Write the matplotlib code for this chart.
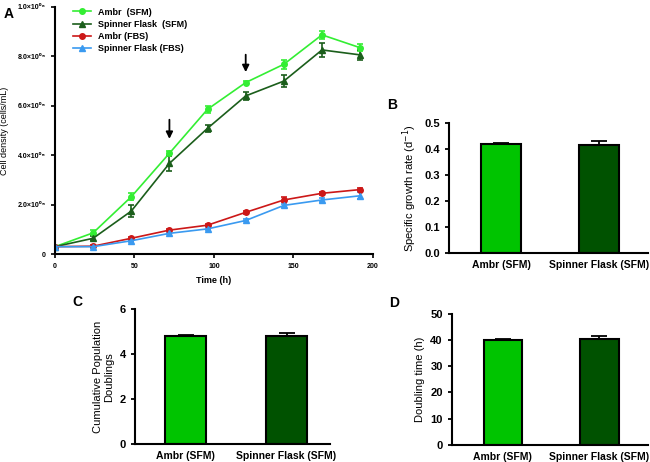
import numpy as np
import matplotlib
matplotlib.use("Agg")
import matplotlib.pyplot as plt
from matplotlib.lines import Line2D

plt.rcParams['font.family'] = ['Liberation Sans', 'DejaVu Sans']

# panel A data (cells/mL)
time_h = [0, 24, 48, 72, 96, 120, 144, 168, 192]
ambr_sfm = [0.030e6, 0.086e6, 0.232e6, 0.408e6, 0.586e6, 0.694e6, 0.768e6, 0.887e6, 0.835e6]
ambr_sfm_err = [0.004e6, 0.010e6, 0.015e6, 0.008e6, 0.014e6, 0.005e6, 0.018e6, 0.015e6, 0.015e6]
sf_sfm = [0.030e6, 0.064e6, 0.174e6, 0.367e6, 0.509e6, 0.640e6, 0.700e6, 0.826e6, 0.806e6]
sf_sfm_err = [0.004e6, 0.008e6, 0.025e6, 0.030e6, 0.014e6, 0.015e6, 0.024e6, 0.028e6, 0.020e6]
ambr_fbs = [0.030e6, 0.032e6, 0.064e6, 0.097e6, 0.117e6, 0.169e6, 0.219e6, 0.246e6, 0.261e6]
ambr_fbs_err = [0.003e6, 0.004e6, 0.005e6, 0.004e6, 0.004e6, 0.005e6, 0.010e6, 0.005e6, 0.005e6]
sf_fbs = [0.030e6, 0.030e6, 0.054e6, 0.084e6, 0.102e6, 0.136e6, 0.197e6, 0.219e6, 0.236e6]
sf_fbs_err = [0.003e6, 0.004e6, 0.004e6, 0.004e6, 0.004e6, 0.004e6, 0.006e6, 0.008e6, 0.014e6]
arrow_times = [72, 120]
arrow_tops = [0.555e6, 0.818e6]
arrow_tips = [0.455e6, 0.725e6]
y_ticks_a = [0, 0.2e6, 0.4e6, 0.6e6, 0.8e6, 1.0e6]
y_ticklabels_a = ["0", "2.0×10⁰⁵", "4.0×10⁰⁵", "6.0×10⁰⁵", "8.0×10⁰⁵", "1.0×10⁰⁶"]

# bar panels
groups = ["Ambr (SFM)", "Spinner Flask (SFM)"]
growth_rate = [0.418, 0.415]
growth_rate_err = [0.006, 0.015]
pop_doublings = [4.82, 4.80]
pop_doublings_err = [0.03, 0.13]
doubling_time = [40.2, 40.6]
doubling_time_err = [0.4, 1.0]

c_ambr_sfm = "#33ee33"
c_sf_sfm = "#1b5e1b"
c_ambr_fbs = "#cc1818"
c_sf_fbs = "#3a9af0"
bar_colors = ["#00c400", "#005200"]

fig = plt.figure(figsize=(6.5, 4.62), dpi=100)

# ---- panel A
axA = fig.add_axes([0.0846, 0.450, 0.489, 0.535])
series = [
    (ambr_sfm, ambr_sfm_err, c_ambr_sfm, "o", "Ambr  (SFM)"),
    (sf_sfm, sf_sfm_err, c_sf_sfm, "^", "Spinner Flask  (SFM)"),
    (ambr_fbs, ambr_fbs_err, c_ambr_fbs, "o", "Ambr (FBS)"),
    (sf_fbs, sf_fbs_err, c_sf_fbs, "^", "Spinner Flask (FBS)"),
]
handles = []
for vals, errs, col, mk, lab in series:
    axA.errorbar(time_h, vals, yerr=errs, color=col, marker=mk, markersize=4,
                 linewidth=1.2, elinewidth=1.2, capsize=2, capthick=1.2)
    handles.append(Line2D([], [], color=col, marker=mk, markersize=4, linewidth=1.2, label=lab))
for t, top, tip in zip(arrow_times, arrow_tops, arrow_tips):
    axA.annotate("", xy=(t, tip), xytext=(t, top),
                 arrowprops=dict(arrowstyle="-|>", color="black", lw=1.3,
                                 mutation_scale=10))
axA.set_xlim(0, 200)
axA.set_ylim(0, 1.0e6)
axA.set_xticks([0, 50, 100, 150, 200])
axA.set_yticks(y_ticks_a)
axA.set_yticklabels(y_ticklabels_a)
axA.tick_params(labelsize=5, width=1.2, length=3)
for lbl in axA.get_xticklabels() + axA.get_yticklabels():
    lbl.set_fontweight("bold")
axA.set_xlabel("Time (h)", fontsize=6.5, fontweight="bold", labelpad=4)
axA.set_ylabel("Cell density (cells/mL)", fontsize=6.5)
axA.yaxis.set_label_coords(-0.145, 0.5)
axA.spines[["top", "right"]].set_visible(False)
axA.spines[["left", "bottom"]].set_linewidth(1.5)
axA.legend(handles=handles, loc="upper left", bbox_to_anchor=(0.03, 1.03), frameon=False,
           handlelength=2, handletextpad=0.8, labelspacing=0.35,
           prop={"weight": "bold", "size": 6.5})
fig.text(0.006, 0.985, "A", fontsize=10, fontweight="bold", va="top")


def bar_panel(rect, vals, errs, ylim, yticks, ylabel, letter, letter_pos, xlim):
    ax = fig.add_axes(rect)
    x = np.arange(len(groups))
    ax.bar(x, vals, width=0.4, color=bar_colors, edgecolor="black", linewidth=1.5, zorder=2)
    ax.errorbar(x, vals, yerr=[[0] * len(errs), errs], fmt="none", ecolor="black",
                elinewidth=1.3, capsize=6, capthick=1.3, zorder=3)
    ax.set_xlim(*xlim)
    ax.set_ylim(*ylim)
    ax.set_yticks(yticks)
    ax.set_xticks(x)
    ax.set_xticklabels(groups)
    ax.tick_params(axis="x", length=0, labelsize=7.5, pad=5)
    ax.tick_params(axis="y", labelsize=8, width=1.3, length=3)
    for lbl in ax.get_xticklabels() + ax.get_yticklabels():
        lbl.set_fontweight("bold")
    ax.set_ylabel(ylabel, fontsize=8, multialignment="center")
    ax.spines[["top", "right"]].set_visible(False)
    ax.spines[["left", "bottom"]].set_linewidth(1.5)
    fig.text(letter_pos[0], letter_pos[1], letter, fontsize=10, fontweight="bold", va="center")
    return ax


axB = bar_panel([0.691, 0.4517, 0.306, 0.2827], growth_rate, growth_rate_err,
                (0, 0.5), [0.0, 0.1, 0.2, 0.3, 0.4, 0.5],
                "Specific growth rate (d$^{-1}$)", "B", (0.596, 1 - 105 / 462), (-0.53, 1.5))
axB.yaxis.set_major_formatter(matplotlib.ticker.FormatStrFormatter("%.1f"))

axC = bar_panel([0.2077, 0.039, 0.30, 0.2915], pop_doublings, pop_doublings_err,
                (0, 6), [0, 2, 4, 6],
                "Cumulative Population\nDoublings", "C", (0.112, 1 - 302 / 462), (-0.5, 1.43))

axD = bar_panel([0.695, 0.0374, 0.3015, 0.2829], doubling_time, doubling_time_err,
                (0, 50), [0, 10, 20, 30, 40, 50],
                "Doubling time (h)", "D", (0.598, 1 - 303 / 462), (-0.53, 1.5))

fig.savefig("out.png", dpi=100)
